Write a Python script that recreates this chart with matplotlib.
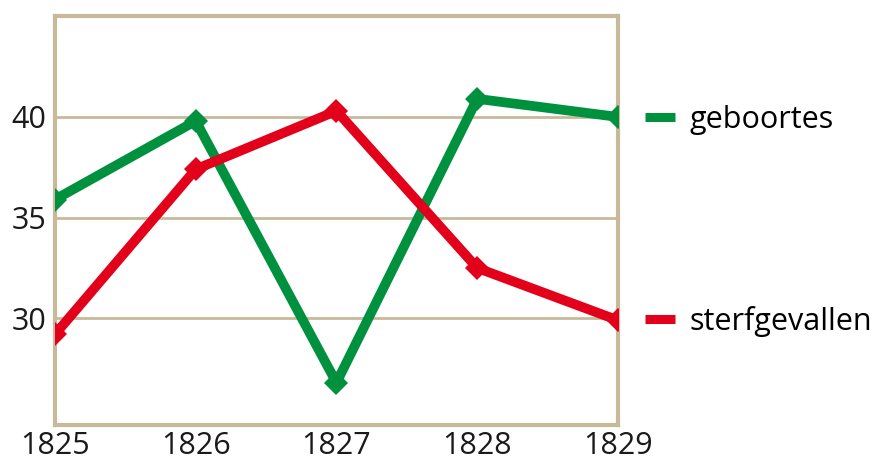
import matplotlib.pyplot as plt
from matplotlib.lines import Line2D

# Data
years = [1825, 1826, 1827, 1828, 1829]
geboortes = [35.9, 39.8, 26.8, 40.9, 40.0]
sterfgevallen = [29.2, 37.4, 40.3, 32.5, 29.9]
labels = ['geboortes', 'sterfgevallen']

green = '#00913f'
red = '#e2001a'
tan = '#c9b99b'

plt.rcParams['font.family'] = ['Open Sans', 'DejaVu Sans']

fig = plt.figure(figsize=(8.81, 4.65), dpi=100)
ax = fig.add_axes([0.0624, 0.086, 0.639, 0.879])

ax.plot(years, geboortes, '-D', color=green, linewidth=7, markersize=12,
        markeredgewidth=0, zorder=3)
ax.plot(years, sterfgevallen, '-D', color=red, linewidth=7, markersize=12,
        markeredgewidth=0, zorder=3)

ax.set_xlim(1825, 1829)
ax.set_ylim(24.7, 45)
ax.set_xticks(years)
ax.set_yticks([30, 35, 40])
ax.yaxis.grid(True, color=tan, linewidth=2)
ax.set_axisbelow(True)
ax.tick_params(length=0, labelsize=22, colors='#1a1a1a')
ax.tick_params(axis='y', pad=6)
ax.tick_params(axis='x', pad=4)
for s in ax.spines.values():
    s.set_color(tan)
    s.set_linewidth(3)

handles = [Line2D([], [], color=green, linewidth=6.5, solid_capstyle='butt'),
           Line2D([], [], color=red, linewidth=6.5, solid_capstyle='butt')]
ax.legend(handles, labels, loc='center left', bbox_to_anchor=(1.048, 0.5),
          frameon=False, fontsize=22, handlelength=0.98, handletextpad=0.49,
          labelspacing=5.6, borderaxespad=0, borderpad=0)

fig.savefig('out.png', dpi=100)
